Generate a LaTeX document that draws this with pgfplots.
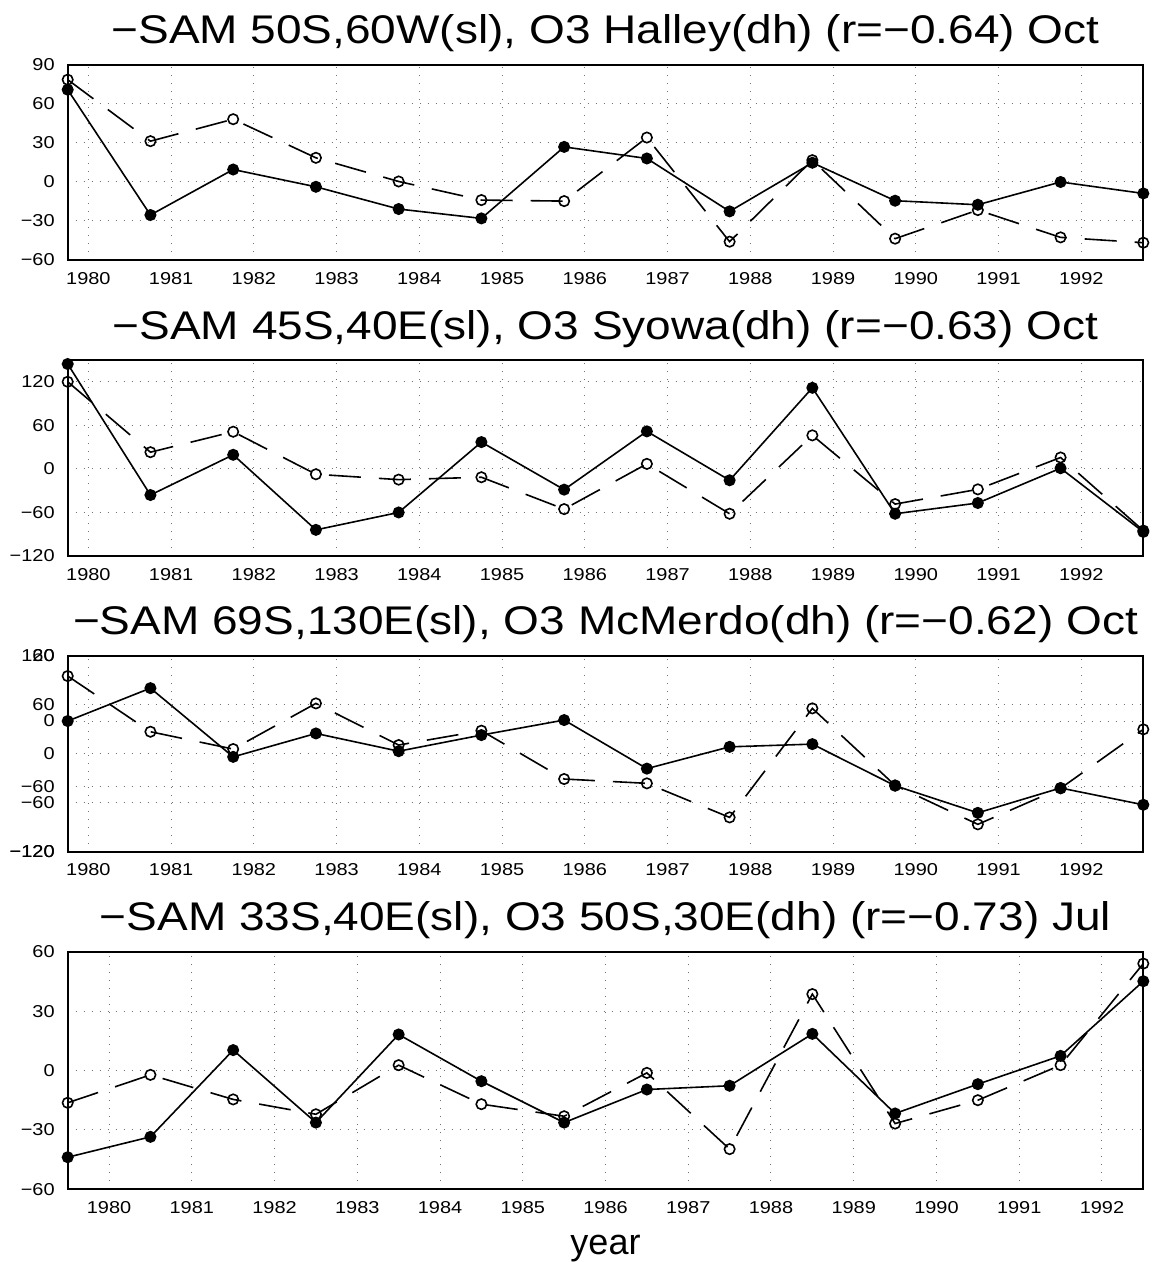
\documentclass[border=0pt]{standalone}
\usepackage{fontspec}
\setmainfont{Liberation Sans}
\newfontfamily\gfont[FakeStretch=1.15]{Liberation Sans}
\newfontfamily\tfont[FakeStretch=1.16]{Liberation Sans}
\usepackage{pgfplots}
\pgfplotsset{compat=1.18}

\pgfplotsset{
  gpanel/.style={
    scale only axis, width=537.8pt, anchor=north west,
    xmin=1979.75, xmax=1992.75,
    xtick={1980,1981,1982,1983,1984,1985,1986,1987,1988,1989,1990,1991,1992},
    xticklabels={1980,1981,1982,1983,1984,1985,1986,1987,1988,1989,1990,1991,1992},
    axis line style={line width=1pt},
    major tick length=0pt,
    grid=major,
    major grid style={gray!90!black, line width=0.5pt, dash pattern=on 0.6pt off 3.4pt},
    tick label style={font=\tfont\fontsize{8.6}{10}\selectfont},
    yticklabel style={xshift=-3pt},
    xticklabel style={yshift=-2.5pt},
    title style={at={(0.5,1)}, anchor=base, yshift=4.5pt,
      font=\gfont\fontsize{20}{24}\selectfont},
    clip=false,
  },
  sam/.style={black, line width=0.8pt, mark=*, mark size=2.6pt, mark options={solid}},
  ozo/.style={black, line width=0.8pt, dash pattern=on 16pt off 9pt,
    mark=o, mark size=2.6pt, mark options={solid, fill=white}},
}

\begin{document}
\begin{tikzpicture}
\useasboundingbox (0,0) rectangle (575.5pt,-631pt);

% panel 1
\begin{axis}[gpanel, at={(33.85pt,-32.5pt)}, height=97.5pt,
  ymin=-60, ymax=90, ytick={-60,-30,0,30,60,90},
  yticklabels={−60,−30,0,30,60,90},
  title={−SAM 50S,60W(sl), O3 Halley(dh) (r=−0.64) Oct}]
\addplot[ozo] coordinates {(1979.75,78.7) (1980.75,31.4) (1981.75,48.3) (1982.75,18.6)
  (1983.75,0.4) (1984.75,-13.9) (1985.75,-14.7) (1986.75,34.2) (1987.75,-45.9)
  (1988.75,16.8) (1989.75,-43.6) (1990.75,-21.6) (1991.75,-42.6) (1992.75,-46.7)};
\addplot[sam] coordinates {(1979.75,71) (1980.75,-25.4) (1981.75,9.6) (1982.75,-3.7)
  (1983.75,-20.8) (1984.75,-28) (1985.75,27) (1986.75,18.1) (1987.75,-22.6)
  (1988.75,14.8) (1989.75,-14.4) (1990.75,-17.5) (1991.75,0) (1992.75,-8.8)};
\end{axis}

% panel 2
\begin{axis}[gpanel, at={(33.85pt,-180pt)}, height=98pt,
  ymin=-120, ymax=150, ytick={-120,-60,0,60,120},
  yticklabels={−120,−60,0,60,120},
  title={−SAM 45S,40E(sl), O3 Syowa(dh) (r=−0.63) Oct}]
\addplot[ozo] coordinates {(1979.75,120) (1980.75,23) (1981.75,51.2) (1982.75,-7.4)
  (1983.75,-14.8) (1984.75,-11.5) (1985.75,-55.4) (1986.75,6.9) (1987.75,-61.8)
  (1988.75,46.2) (1989.75,-48.5) (1990.75,-28.2) (1991.75,15.7) (1992.75,-85)};
\addplot[sam] coordinates {(1979.75,144.5) (1980.75,-36) (1981.75,19.4) (1982.75,-84)
  (1983.75,-60) (1984.75,36.9) (1985.75,-28.6) (1986.75,51.7) (1987.75,-15.7)
  (1988.75,111.7) (1989.75,-61.8) (1990.75,-47) (1991.75,0.9) (1992.75,-86.8)};
\end{axis}

% panel 3: two overlaid y scales
\begin{axis}[gpanel, at={(33.85pt,-327.85pt)}, height=98pt,
  ymin=-120, ymax=120, ytick={-120,-60,0,60,120},
  yticklabels={−120,−60,0,60,120},
  title={−SAM 69S,130E(sl), O3 McMerdo(dh) (r=−0.62) Oct}]
\addplot[ozo] coordinates {(1979.75,95.1) (1980.75,26.9) (1981.75,5.7) (1982.75,61.6)
  (1983.75,10.6) (1984.75,28.2) (1985.75,-31.0) (1986.75,-36.3) (1987.75,-78)
  (1988.75,55.5) (1989.75,-38.8) (1990.75,-86.5) (1991.75,-42.4) (1992.75,29.8)};
\end{axis}
\begin{axis}[gpanel, at={(33.85pt,-327.85pt)}, height=98pt,
  xtick=\empty,
  ymin=-120, ymax=60, ytick={-120,-60,0,60},
  yticklabels={−120,−60,0,60}]
\addplot[sam] coordinates {(1979.75,0) (1980.75,30.2) (1981.75,-32.9) (1982.75,-11.4)
  (1983.75,-27.7) (1984.75,-12.9) (1985.75,0.9) (1986.75,-43.7) (1987.75,-23.7)
  (1988.75,-21.2) (1989.75,-59.4) (1990.75,-84.3) (1991.75,-61.5) (1992.75,-76.9)};
\end{axis}

% panel 4
\begin{axis}[gpanel, at={(33.85pt,-475.85pt)}, height=118.8pt,
  xmin=1979.5, xmax=1992.5,
  ymin=-60, ymax=60, ytick={-60,-30,0,30,60},
  yticklabels={−60,−30,0,30,60},
  title={−SAM 33S,40E(sl), O3 50S,30E(dh) (r=−0.73) Jul},
  xlabel={year},
  xlabel style={at={(0.5,0)}, anchor=base, yshift=-32.8pt,
    font=\fontsize{18}{22}\selectfont}]
\addplot[ozo] coordinates {(1979.5,-16.3) (1980.5,-2.2) (1981.5,-14.6) (1982.5,-22.1)
  (1983.5,2.7) (1984.5,-17) (1985.5,-23.1) (1986.5,-1.2) (1987.5,-39.7)
  (1988.5,38.6) (1989.5,-26.8) (1990.5,-15) (1991.5,2.7) (1992.5,54)};
\addplot[sam] coordinates {(1979.5,-43.8) (1980.5,-33.5) (1981.5,10.3) (1982.5,-26.3)
  (1983.5,18.2) (1984.5,-5.4) (1985.5,-26.3) (1986.5,-9.6) (1987.5,-7.7)
  (1988.5,18.5) (1989.5,-21.7) (1990.5,-6.9) (1991.5,7.4) (1992.5,45.1)};
\end{axis}
\end{tikzpicture}
\end{document}
